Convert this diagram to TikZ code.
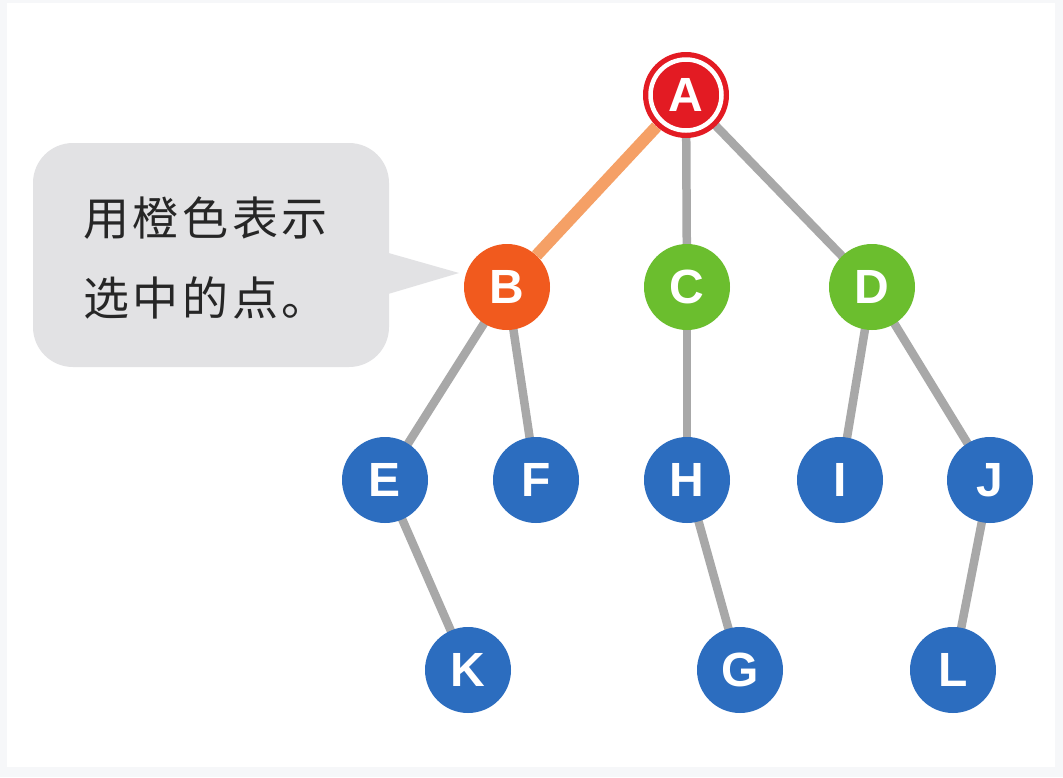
\documentclass[tikz,border=0pt]{standalone}
\usepackage{fontspec}
\setmainfont{Liberation Sans}
\newfontfamily\cjk[LetterSpace=8]{Noto Sans CJK SC}
\definecolor{bgout}{HTML}{F6F7F9}
\definecolor{nodered}{HTML}{E31B23}
\definecolor{nodeorange}{HTML}{F15A1E}
\definecolor{nodegreen}{HTML}{6BBE2E}
\definecolor{nodeblue}{HTML}{2C6DBF}
\definecolor{edgegray}{HTML}{A8A8A8}
\definecolor{edgeorange}{HTML}{F5A066}
\definecolor{notegray}{HTML}{E2E2E4}
\pgfdeclarelayer{bglayer}
\pgfdeclarelayer{edgelayer}
\pgfsetlayers{bglayer,edgelayer,main}
\tikzset{
  vertex/.style={circle, minimum size=86pt, inner sep=0pt, text=white,
    font=\bfseries\fontsize{48}{48}\selectfont},
  bluev/.style={vertex, fill=nodeblue},
  greenv/.style={vertex, fill=nodegreen},
  edge/.style={draw=edgegray, line width=8.5pt},
  hotedge/.style={draw=edgeorange, line width=12pt},
  notebox/.style={fill=notegray, rounded corners=40pt, minimum width=356pt, minimum height=224pt, inner sep=0pt},
  notetext/.style={anchor=west, inner sep=0pt, font=\cjk\fontsize{46}{46}\selectfont, text=black!85}
}
\begin{document}
\begin{tikzpicture}[x=1pt,y=-1pt]
\begin{pgfonlayer}{bglayer}
\fill[bgout] (0,0) rectangle (1063,777);
\fill[white] (7,3) rectangle (1055,767);
\end{pgfonlayer}
\useasboundingbox (0,0) rectangle (1063,777);
% nodes
\node[vertex, fill=nodered] (A) at (686,95) {A};
\draw[white, line width=4.5pt] (A.center) circle[radius=35.5pt];
\node[vertex, fill=nodeorange] (B) at (507,287) {B};
\node[greenv] (C) at (687,287) {C};
\node[greenv] (D) at (872,287) {D};
\node[bluev] (E) at (385,480) {E};
\node[bluev] (F) at (536,480) {F};
\node[bluev] (H) at (687,480) {H};
\node[bluev] (I) at (840,480) {I};
\node[bluev] (J) at (990,480) {J};
\node[bluev] (K) at (468,670) {K};
\node[bluev] (G) at (740,670) {G};
\node[bluev] (L) at (953,670) {L};
% callout
\node[notebox] (note) at (211,255) {};
\coordinate (tip) at (459,273);
\fill[notegray] (378,250) -- (tip) -- (378,297) -- cycle;
\node[notetext] (l1) at (83,218) {用橙色表示};
\node[notetext] (l2) at (83,298) {选中的点。};
% edges
\begin{pgfonlayer}{edgelayer}
\draw[hotedge] (A) -- (B);
\draw[edge] (A.center) -- (C.center);
\draw[edge] (A.center) -- (D.center);
\draw[edge] (B.center) -- (E.center);
\draw[edge] (B.center) -- (F.center);
\draw[edge] (C.center) -- (H.center);
\draw[edge] (D.center) -- (I.center);
\draw[edge] (D.center) -- (J.center);
\draw[edge] (E.center) -- (K.center);
\draw[edge] (H.center) -- (G.center);
\draw[edge] (J.center) -- (L.center);
\end{pgfonlayer}
\end{tikzpicture}
\end{document}
